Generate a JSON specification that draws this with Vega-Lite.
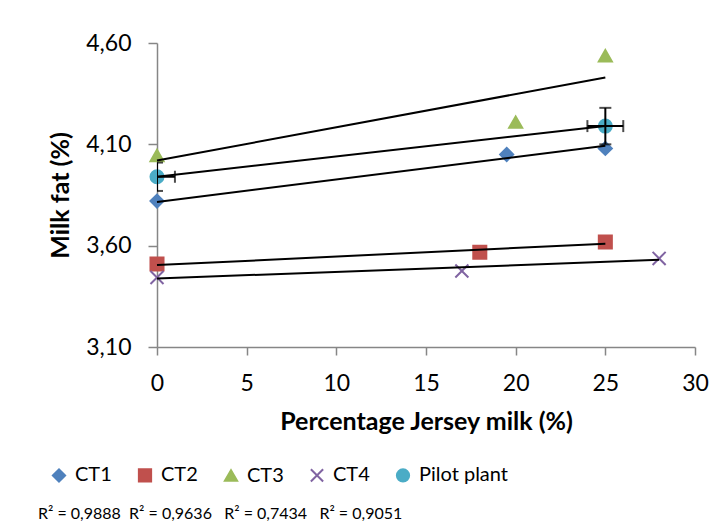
{
  "$schema": "https://vega.github.io/schema/vega-lite/v6.json",
  "width": 538,
  "height": 304,
  "autosize": {"type": "none"},
  "padding": {"left": 157, "top": 43, "right": 29, "bottom": 180},
  "background": "white",
  "config": {
    "view": {"stroke": null},
    "font": "Lato",
    "axis": {
      "domainColor": "#868686",
      "domainWidth": 1.5,
      "tickColor": "#868686",
      "tickWidth": 1.5,
      "grid": false,
      "labelFlush": false,
      "labelColor": "black",
      "labelFont": "Lato",
      "labelFontSize": 23,
      "titleFont": "Lato",
      "titleFontSize": 25,
      "titleFontWeight": "bold",
      "titleColor": "black"
    }
  },
  "title": {
    "text": "R² = 0,9888\u00a0\u00a0R² = 0,9636\u00a0\u00a0\u00a0R² = 0,7434\u00a0\u00a0\u00a0R² = 0,9051",
    "orient": "bottom",
    "anchor": "start",
    "frame": "group",
    "dx": -119,
    "offset": 20,
    "font": "Lato",
    "fontSize": 16,
    "fontWeight": "normal",
    "color": "black"
  },
  "datasets": {
    "points": [
      {"series": "CT1", "x": 0, "y": 3.82},
      {"series": "CT1", "x": 19.5, "y": 4.05},
      {"series": "CT1", "x": 25, "y": 4.08},
      {"series": "CT2", "x": 0, "y": 3.51},
      {"series": "CT2", "x": 18, "y": 3.567},
      {"series": "CT2", "x": 25, "y": 3.618},
      {"series": "CT3", "x": 0, "y": 4.045},
      {"series": "CT3", "x": 20, "y": 4.21},
      {"series": "CT3", "x": 25, "y": 4.537},
      {"series": "CT4", "x": 0, "y": 3.443},
      {"series": "CT4", "x": 17, "y": 3.475},
      {"series": "CT4", "x": 28, "y": 3.537},
      {"series": "Pilot plant", "x": 0, "y": 3.94},
      {"series": "Pilot plant", "x": 25, "y": 4.19}
    ],
    "trends": [
      {"series": "CT1", "x": 0, "y": 3.816},
      {"series": "CT1", "x": 25, "y": 4.093},
      {"series": "CT2", "x": 0, "y": 3.504},
      {"series": "CT2", "x": 25, "y": 3.61},
      {"series": "CT3", "x": 0, "y": 4.02},
      {"series": "CT3", "x": 25, "y": 4.43},
      {"series": "CT4", "x": 0, "y": 3.438},
      {"series": "CT4", "x": 28, "y": 3.53},
      {"series": "Pilot plant", "x": 0, "y": 3.94},
      {"series": "Pilot plant", "x": 25, "y": 4.19}
    ],
    "errs": [
      {"series": "Pilot plant", "x": 0, "y": 3.94, "xlo": -1, "xhi": 1, "ylo": 3.87, "yhi": 4.01},
      {"series": "Pilot plant", "x": 25, "y": 4.19, "xlo": 24, "xhi": 26, "ylo": 4.1, "yhi": 4.28}
    ]
  },
  "layer": [
    {
      "data": {"name": "points"},
      "mark": {"type": "point", "filled": true, "size": 170, "strokeWidth": 2, "opacity": 1},
      "encoding": {
        "x": {"field": "x", "type": "quantitative", "title": "Percentage Jersey milk (%)", "scale": {"domain": [0, 30], "nice": false},
              "axis": {"values": [0, 5, 10, 15, 20, 25, 30], "tickSize": 8, "labelPadding": 17, "titlePadding": 14}},
        "y": {"field": "y", "type": "quantitative", "title": "Milk fat (%)", "scale": {"domain": [3.1, 4.6], "nice": false, "zero": false},
              "axis": {"values": [3.1, 3.6, 4.1, 4.6], "labelExpr": "replace(format(datum.value, '.2f'), '.', ',')", "tickSize": 9, "labelPadding": 17, "titlePadding": 12}},
        "fill": {"field": "series", "type": "nominal", "title": null,
                 "scale": {"domain": ["CT1", "CT2", "CT3", "CT4", "Pilot plant"], "range": ["#4F81BD", "#C0504D", "#9BBB59", "#8064A2", "#4BACC6"]},
                 "legend": {"orient": "none", "legendX": -108, "legendY": 422, "direction": "horizontal", "columns": 5, "columnPadding": 22, "labelFont": "Lato", "labelFontSize": 20, "labelColor": "black", "labelOffset": 6, "symbolSize": 150, "symbolStrokeWidth": 2}},
        "stroke": {"field": "series", "type": "nominal", "title": null,
                   "scale": {"domain": ["CT1", "CT2", "CT3", "CT4", "Pilot plant"], "range": ["#4F81BD", "#C0504D", "#9BBB59", "#8064A2", "#4BACC6"]}},
        "shape": {"field": "series", "type": "nominal", "title": null,
                  "scale": {"domain": ["CT1", "CT2", "CT3", "CT4", "Pilot plant"], "range": ["diamond", "square", "triangle-up", "M-1,-1L1,1M-1,1L1,-1", "circle"]}}
      }
    },
    {
      "data": {"name": "trends"},
      "mark": {"type": "line", "color": "black", "strokeWidth": 2},
      "encoding": {
        "x": {"field": "x", "type": "quantitative", "title": "Percentage Jersey milk (%)"},
        "y": {"field": "y", "type": "quantitative", "title": "Milk fat (%)"},
        "detail": {"field": "series", "type": "nominal"}
      }
    },
    {
      "data": {"name": "errs"},
      "mark": {"type": "errorbar", "color": "black", "clip": true, "thickness": 2, "ticks": {"size": 12, "thickness": 2, "color": "black"}},
      "encoding": {
        "x": {"field": "xlo", "type": "quantitative", "title": "Percentage Jersey milk (%)"},
        "x2": {"field": "xhi"},
        "y": {"field": "y", "type": "quantitative", "title": "Milk fat (%)"}
      }
    },
    {
      "data": {"name": "errs"},
      "mark": {"type": "errorbar", "color": "black", "clip": true, "thickness": 2, "ticks": {"size": 12, "thickness": 2, "color": "black"}},
      "encoding": {
        "y": {"field": "ylo", "type": "quantitative", "title": "Milk fat (%)"},
        "y2": {"field": "yhi"},
        "x": {"field": "x", "type": "quantitative", "title": "Percentage Jersey milk (%)"}
      }
    }
  ]
}
